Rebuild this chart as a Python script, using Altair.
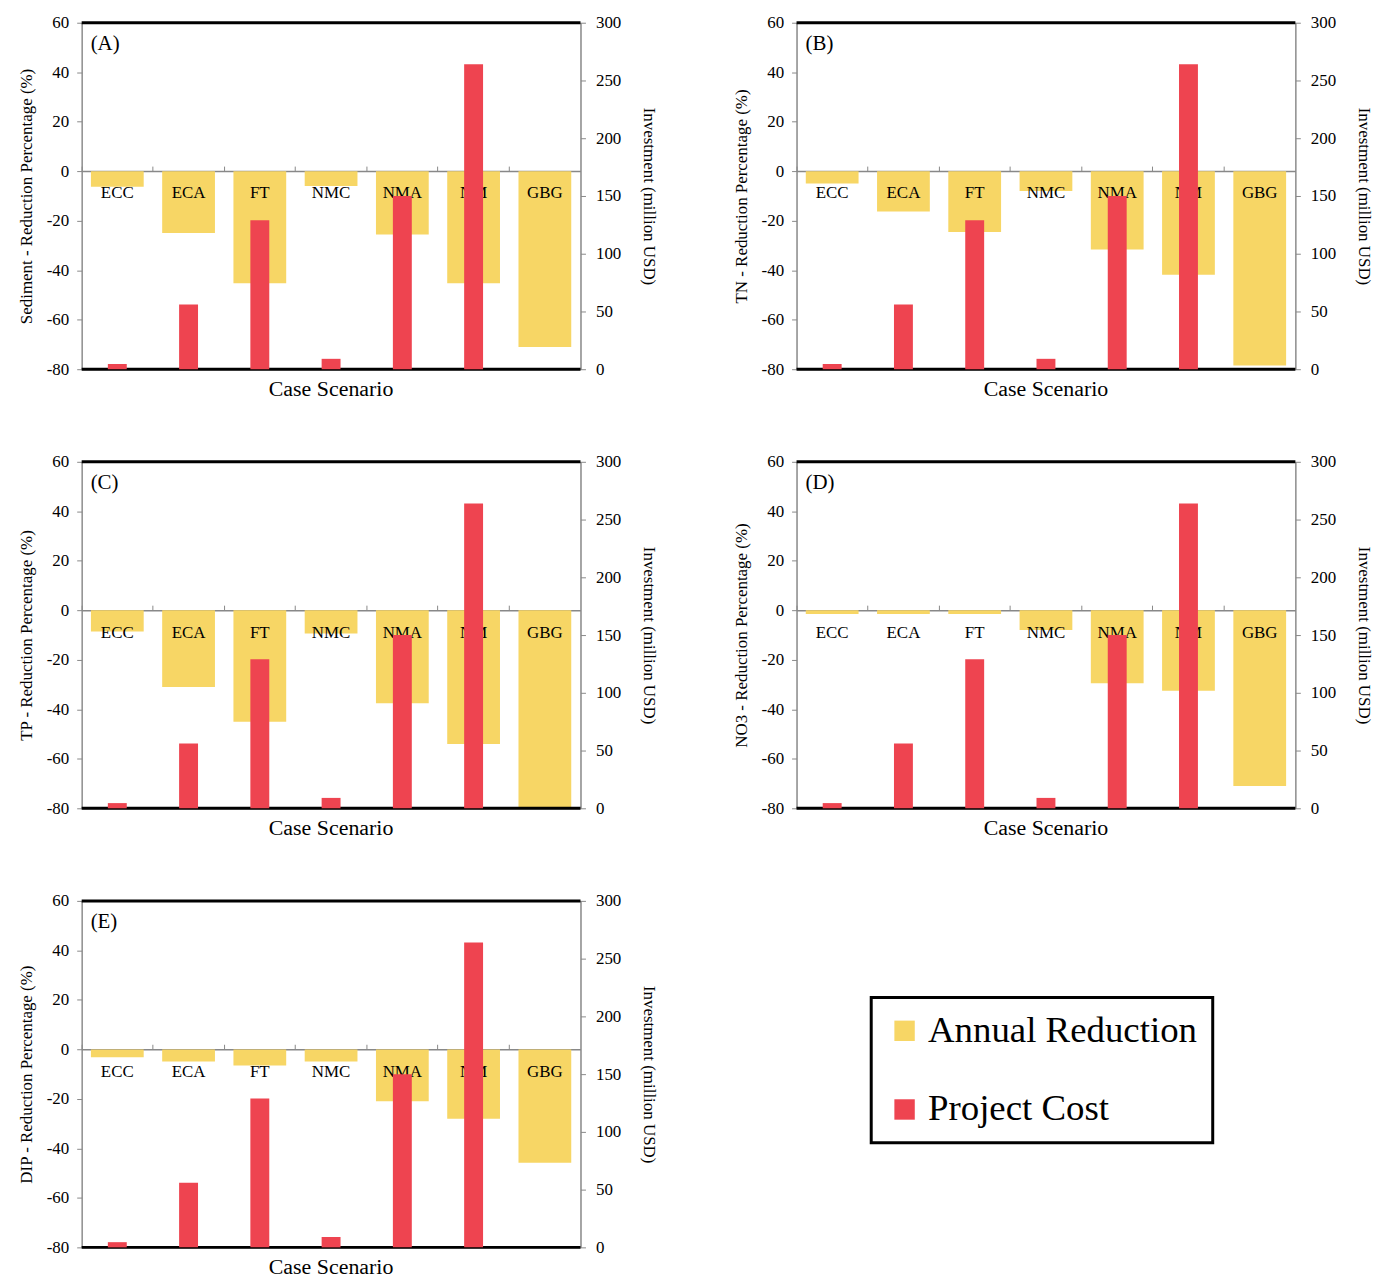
import altair as alt
import pandas as pd

categories = ["ECC", "ECA", "FT", "NMC", "NMA", "NM", "GBG"]

# Project cost (million USD) – identical in every panel, GBG has none
cost_categories = ["ECC", "ECA", "FT", "NMC", "NMA", "NM"]
project_cost = [4.5, 56, 129, 9, 150, 264]

# Annual reduction percentage per pollutant
sediment = [-6.3, -25, -45.3, -6, -25.6, -45.3, -71]
tn = [-5, -16.3, -24.6, -8, -31.6, -41.8, -78.5]
tp = [-8.6, -31, -45, -9.4, -37.6, -54, -80]
no3 = [-1.5, -1.5, -1.5, -8, -29.5, -32.5, -71]
dip = [-3.2, -4.9, -6.5, -4.9, -21, -28, -45.8]

panels = [
    ("(A)", "Sediment - Reduction Percentage (%)", sediment),
    ("(B)", "TN - Reduction Percentage (%)", tn),
    ("(C)", "TP - Reduction Percentage (%)", tp),
    ("(D)", "NO3 - Reduction Percentage (%)", no3),
    ("(E)", "DIP - Reduction Percentage (%)", dip),
]

FONT = "Liberation Serif"
YELLOW = "#F7D665"
RED = "#EE4450"
W, H = 501, 348

color_scale = alt.Scale(domain=["Annual Reduction", "Project Cost"], range=[YELLOW, RED])
legend = alt.Legend(
    title=None, orient="none", legendX=793, legendY=979,
    labelFont=FONT, labelFontSize=37, labelColor="black", labelOffset=5,
    labelLimit=0,
    symbolType="square", symbolSize=420, symbolStrokeWidth=0,
    strokeColor="black", padding=15, rowPadding=41,
)

zero_offset = -round(H * 60 / 140)
x_axis = alt.Axis(orient="top", offset=zero_offset, labels=False, title=None,
                  domainColor="#888888", tickColor="#888888", tickSize=5,
                  bandPosition=0, grid=False, domainWidth=1.5)
x_enc = alt.X("cat:N", sort=categories, scale=alt.Scale(paddingInner=0, paddingOuter=0),
              axis=x_axis)

left_scale = alt.Scale(domain=[-80, 60], nice=False, zero=False)
right_scale = alt.Scale(domain=[0, 300], nice=False)


def panel(tag, ytitle, values):
    red_df = pd.DataFrame({"cat": cost_categories, "cost": project_cost,
                           "series": "Project Cost"})
    yel_df = pd.DataFrame({"cat": categories, "red": values,
                           "series": "Annual Reduction", "zero": 0})
    yel_df["labely"] = -9

    left_axis = alt.Axis(values=list(range(-80, 61, 20)), title=ytitle, grid=False,
                         labelExpr="toString(datum.value)",
                         labelFont=FONT, labelFontSize=17, labelColor="black",
                         titleFont=FONT, titleFontSize=17, titleFontWeight="normal",
                         titleColor="black", titlePadding=11, labelPadding=8,
                         tickSize=5, domainColor="#888888", tickColor="#888888")
    right_axis = alt.Axis(values=list(range(0, 301, 50)), title="Investment (million USD)",
                          orient="right", grid=False,
                          labelFont=FONT, labelFontSize=17, labelColor="black",
                          titleFont=FONT, titleFontSize=17, titleFontWeight="normal",
                          titleColor="black", titlePadding=19, labelPadding=10,
                          tickSize=5, domainColor="#888888", tickColor="#888888")

    base = alt.Chart(yel_df)
    yellow = base.mark_bar(size=53).encode(
        x=x_enc,
        y=alt.Y("red:Q", scale=left_scale, axis=left_axis),
        y2="zero:Q",
        color=alt.Color("series:N", scale=color_scale, legend=legend),
    )
    labels = base.mark_text(font=FONT, fontSize=17, color="black").encode(
        x=x_enc, y=alt.Y("labely:Q"), text="cat:N")
    frame_df = pd.DataFrame({"edge": [60, -80]})
    frame = alt.Chart(frame_df).mark_rule(color="black", strokeWidth=3).encode(
        y=alt.Y("edge:Q"))
    tag_mark = alt.Chart(pd.DataFrame({"t": [tag]})).mark_text(
        font=FONT, fontSize=21, color="black", align="left", baseline="middle"
    ).encode(text="t:N", x=alt.value(9), y=alt.value(21))

    left = alt.layer(yellow, labels, frame, tag_mark)

    red = alt.Chart(red_df).mark_bar(size=19).encode(
        x=x_enc,
        y=alt.Y("cost:Q", scale=right_scale, axis=right_axis),
        color=alt.Color("series:N", scale=color_scale, legend=legend),
    )
    return alt.layer(left, red).resolve_scale(y="independent").properties(
        width=W, height=H,
        title=alt.TitleParams("Case Scenario", orient="bottom", font=FONT, fontSize=22,
                              fontWeight="normal", color="black", offset=2),
    )


charts = [panel(*p) for p in panels]

chart = alt.vconcat(
    alt.hconcat(charts[0], charts[1], spacing=73),
    alt.hconcat(charts[2], charts[3], spacing=73),
    charts[4],
    spacing=51,
).properties(
    padding={"left": 8, "top": 2, "right": 5, "bottom": 5}
).configure_view(stroke="#888888", strokeWidth=1).configure_legend(
    strokeWidth=3
)

chart.save("out.html", embed_options={"renderer": "svg", "actions": False})
